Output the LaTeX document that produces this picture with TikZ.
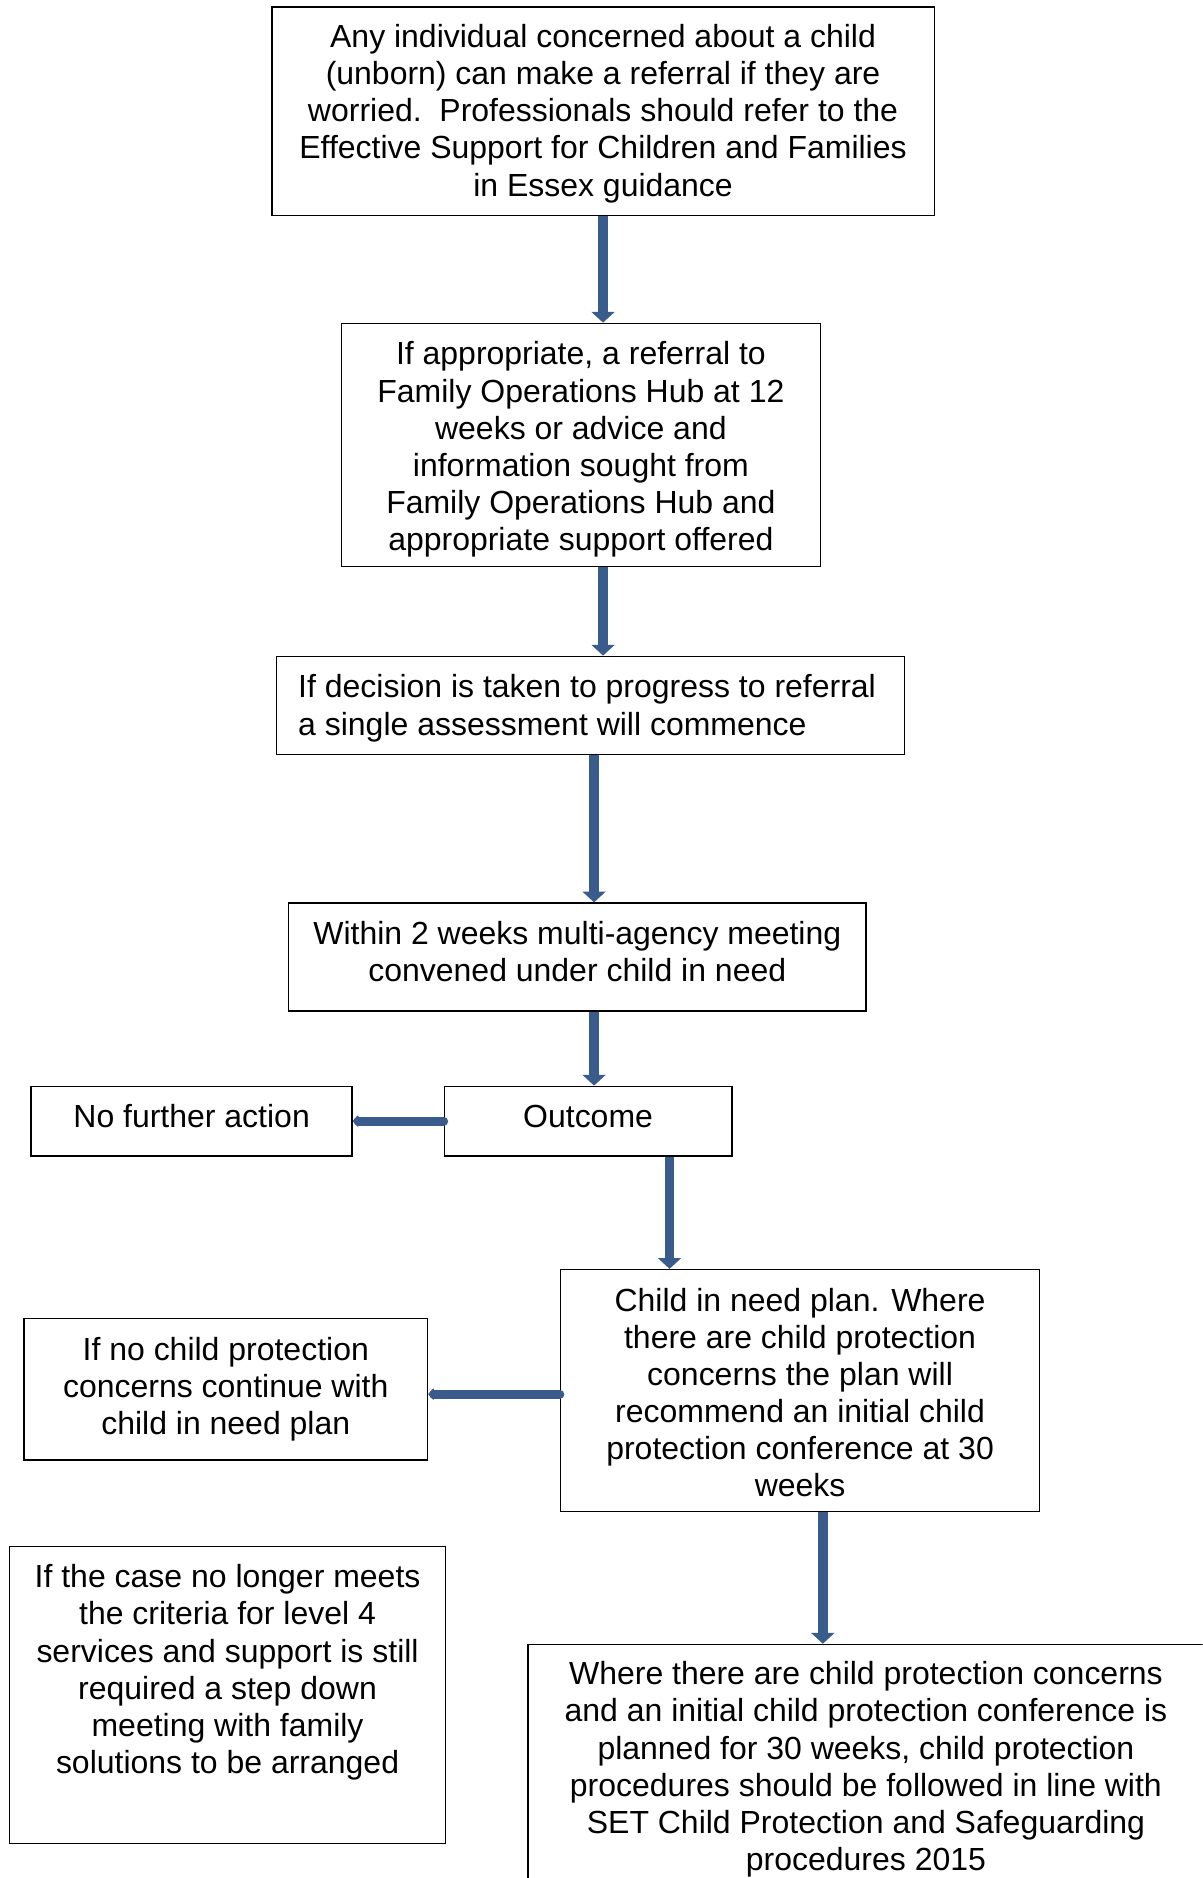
\documentclass[tikz,border=0pt]{standalone}
\usepackage{fontspec}
\setmainfont{Liberation Sans}
\usetikzlibrary{arrows.meta,calc}
\definecolor{arrowblue}{RGB}{58,92,140}
% box text: height, width, top gap, lines
\newcommand{\bxc}[4]{\parbox[c][#1][t]{#2}{\centering\vspace*{#3}\strut#4}}
\newcommand{\bxl}[4]{\parbox[c][#1][t]{#2}{\raggedright\leftskip=18pt\relax\vspace*{#3}\strut#4}}
\begin{document}
\begin{tikzpicture}[x=1pt,y=-1pt,
  box/.style={draw=black, line width=1.2pt, inner sep=0pt,
    font=\fontsize{26.7pt}{31pt}\selectfont},
  varr/.style={draw=arrowblue, line width=8pt,
    -{Triangle[width=19pt,length=9pt]}},
  harr/.style={draw=arrowblue, line width=7.5pt, line cap=round,
    -{Triangle[width=11pt,length=5pt,round]}}]
\useasboundingbox (0,0) rectangle (1004,1568);
\clip (0,0) rectangle (1004,1568);

\node[box] (b1) at (503.5,93)
  {\bxc{174pt}{553pt}{12pt}{Any individual concerned about a child\\(unborn) can make a referral if they are\\worried.\ \ Professionals should refer to the\\Effective Support for Children and Families\\in Essex guidance}};
\node[box] (b2) at (485,371.5)
  {\bxc{203pt}{400pt}{13pt}{If appropriate, a referral to\\Family Operations Hub at 12\\weeks or advice and\\information sought from\\Family Operations Hub and\\appropriate support offered}};
\node[box] (b3) at (493,589)
  {\bxl{82pt}{524pt}{13pt}{If decision is taken to progress to referral\\a single assessment will commence}};
\node[box] (b4) at (482,799)
  {\bxc{90pt}{482pt}{13pt}{Within 2 weeks multi-agency meeting\\convened under child in need}};
\node[box] (out) at (491,936) {\bxc{58pt}{240pt}{13pt}{Outcome}};
\node[box] (nfa) at (160,936) {\bxc{58pt}{268pt}{13pt}{No further action}};
\node[box] (cin) at (668,1161)
  {\bxc{202pt}{400pt}{13pt}{Child in need plan. Where\\there are child protection\\concerns the plan will\\recommend an initial child\\protection conference at 30\\weeks}};
\node[box] (nocp) at (188.5,1160)
  {\bxc{118pt}{337pt}{13pt}{If no child protection\\concerns continue with\\child in need plan}};
\node[box] (sd) at (190,1415)
  {\bxc{248pt}{364pt}{13pt}{If the case no longer meets\\the criteria for level 4\\services and support is still\\required a step down\\meeting with family\\solutions to be arranged}};
\node[box] (cp) at (723,1474.5)
  {\bxc{203pt}{564pt}{12pt}{Where there are child protection concerns\\and an initial child protection conference is\\planned for 30 weeks, child protection\\procedures should be followed in line with\\SET Child Protection and Safeguarding\\procedures 2015}};

\draw[varr] (b1.south) -- (b1.south |- b2.north);
\draw[varr] (b2.south -| b1.south) -- (b3.north -| b1.south);
\coordinate (p3) at ([xshift=3pt]b3.south);
\draw[varr] (p3) -- (p3 |- b4.north);
\coordinate (p4) at ([xshift=14pt]b4.south);
\draw[varr] (p4) -- (p4 |- out.north);
\coordinate (p5) at ([xshift=68pt]out.south);
\draw[varr] (p5) -- (p5 |- cin.north);
\coordinate (p6) at ([xshift=19pt]cin.south);
\draw[varr] (p6) -- (p6 |- cp.north);
\draw[harr] (out.west) -- (nfa.east);
\coordinate (h2) at ([yshift=-3pt]cin.west);
\draw[harr] (h2) -- (h2 -| nocp.east);
\end{tikzpicture}
\end{document}
